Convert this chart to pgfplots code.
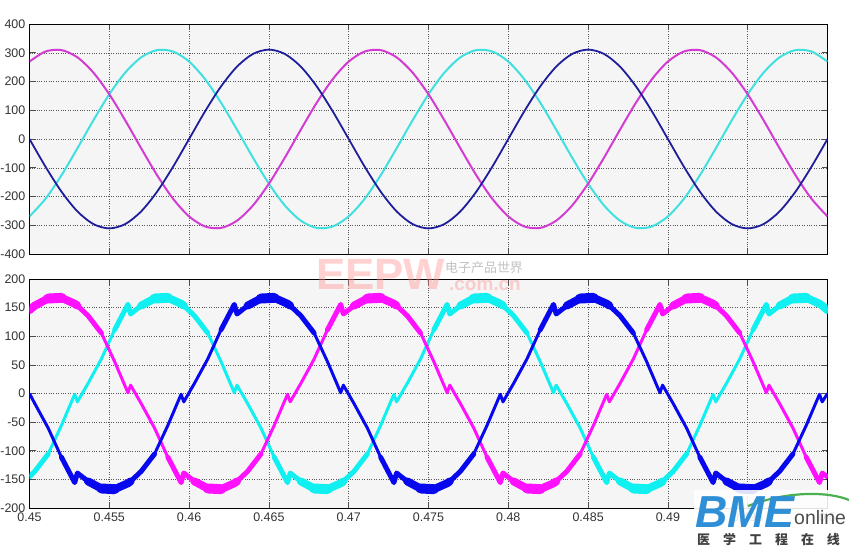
\documentclass[border=0pt]{standalone}
\usepackage{pgfplots}
\pgfplotsset{compat=1.18}
\usepackage{pgfplotstable}
\usepackage{fontspec}
\setmainfont{Liberation Sans}
\newfontfamily\cjk{Noto Sans CJK SC}
\definecolor{vb}{HTML}{1E1E9A}
\definecolor{vm}{HTML}{D23CD2}
\definecolor{vc}{HTML}{40E0E0}
\definecolor{ib}{HTML}{0808EE}
\definecolor{im}{HTML}{FF10FF}
\definecolor{ic}{HTML}{10F0F0}
\definecolor{axbg}{HTML}{F5F5F5}
\definecolor{bmeblue}{HTML}{2E8FD6}
\definecolor{bmegreen}{HTML}{4CAF50}

\pgfplotstableread{
t vb vm vc
0.450 0 269.3 -269.3
0.451 -96.1 304.2 -208.1
0.452 -182.8 309.3 -126.5
0.453 -251.6 284.1 -32.5
0.454 -295.8 231.1 64.7
0.455 -311 155.5 155.5
0.456 -295.8 64.7 231.1
0.457 -251.6 -32.5 284.1
0.458 -182.8 -126.5 309.3
0.459 -96.1 -208.1 304.2
0.460 0 -269.3 269.3
0.461 96.1 -304.2 208.1
0.462 182.8 -309.3 126.5
0.463 251.6 -284.1 32.5
0.464 295.8 -231.1 -64.7
0.465 311 -155.5 -155.5
0.466 295.8 -64.7 -231.1
0.467 251.6 32.5 -284.1
0.468 182.8 126.5 -309.3
0.469 96.1 208.1 -304.2
0.470 0 269.3 -269.3
0.471 -96.1 304.2 -208.1
0.472 -182.8 309.3 -126.5
0.473 -251.6 284.1 -32.5
0.474 -295.8 231.1 64.7
0.475 -311 155.5 155.5
0.476 -295.8 64.7 231.1
0.477 -251.6 -32.5 284.1
0.478 -182.8 -126.5 309.3
0.479 -96.1 -208.1 304.2
0.480 0 -269.3 269.3
0.481 96.1 -304.2 208.1
0.482 182.8 -309.3 126.5
0.483 251.6 -284.1 32.5
0.484 295.8 -231.1 -64.7
0.485 311 -155.5 -155.5
0.486 295.8 -64.7 -231.1
0.487 251.6 32.5 -284.1
0.488 182.8 126.5 -309.3
0.489 96.1 208.1 -304.2
0.490 0 269.3 -269.3
0.491 -96.1 304.2 -208.1
0.492 -182.8 309.3 -126.5
0.493 -251.6 284.1 -32.5
0.494 -295.8 231.1 64.7
0.495 -311 155.5 155.5
0.496 -295.8 64.7 231.1
0.497 -251.6 -32.5 284.1
0.498 -182.8 -126.5 309.3
0.499 -96.1 -208.1 304.2
0.500 0 -269.3 269.3
}\volt

\pgfplotstableread{
t ib im ic
0.45 0 145.5 -145.5
0.450333 -17.6 153.5 -135.9
0.451167 -60.2 165.9 -105.7
0.452 -111.2 167.1 -55.8
0.452833 -155.6 156.8 -1.3
0.453 -138.9 153.5 -14.6
0.453667 -153.5 135.9 17.6
0.4545 -165.9 105.7 60.2
0.455333 -167.1 55.8 111.2
0.456167 -156.8 1.3 155.6
0.456333 -153.5 14.6 138.9
0.457 -135.9 -17.6 153.5
0.457833 -105.7 -60.2 165.9
0.458667 -55.8 -111.2 167.1
0.4595 -1.3 -155.6 156.8
0.459667 -14.6 -138.9 153.5
0.460333 17.6 -153.5 135.9
0.461167 60.2 -165.9 105.7
0.462 111.2 -167.1 55.8
0.462833 155.6 -156.8 1.3
0.463 138.9 -153.5 14.6
0.463667 153.5 -135.9 -17.6
0.4645 165.9 -105.7 -60.2
0.465333 167.1 -55.8 -111.2
0.466167 156.8 -1.3 -155.6
0.466333 153.5 -14.6 -138.9
0.467 135.9 17.6 -153.5
0.467833 105.7 60.2 -165.9
0.468667 55.8 111.2 -167.1
0.4695 1.3 155.6 -156.8
0.469667 14.6 138.9 -153.5
0.470333 -17.6 153.5 -135.9
0.471167 -60.2 165.9 -105.7
0.472 -111.2 167.1 -55.8
0.472833 -155.6 156.8 -1.3
0.473 -138.9 153.5 -14.6
0.473667 -153.5 135.9 17.6
0.4745 -165.9 105.7 60.2
0.475333 -167.1 55.8 111.2
0.476167 -156.8 1.3 155.6
0.476333 -153.5 14.6 138.9
0.477 -135.9 -17.6 153.5
0.477833 -105.7 -60.2 165.9
0.478667 -55.8 -111.2 167.1
0.4795 -1.3 -155.6 156.8
0.479667 -14.6 -138.9 153.5
0.480333 17.6 -153.5 135.9
0.481167 60.2 -165.9 105.7
0.482 111.2 -167.1 55.8
0.482833 155.6 -156.8 1.3
0.483 138.9 -153.5 14.6
0.483667 153.5 -135.9 -17.6
0.4845 165.9 -105.7 -60.2
0.485333 167.1 -55.8 -111.2
0.486167 156.8 -1.3 -155.6
0.486333 153.5 -14.6 -138.9
0.487 135.9 17.6 -153.5
0.487833 105.7 60.2 -165.9
0.488667 55.8 111.2 -167.1
0.4895 1.3 155.6 -156.8
0.489667 14.6 138.9 -153.5
0.490333 -17.6 153.5 -135.9
0.491167 -60.2 165.9 -105.7
0.492 -111.2 167.1 -55.8
0.492833 -155.6 156.8 -1.3
0.493 -138.9 153.5 -14.6
0.493667 -153.5 135.9 17.6
0.4945 -165.9 105.7 60.2
0.495333 -167.1 55.8 111.2
0.496167 -156.8 1.3 155.6
0.496333 -153.5 14.6 138.9
0.497 -135.9 -17.6 153.5
0.497833 -105.7 -60.2 165.9
0.498667 -55.8 -111.2 167.1
0.4995 -1.3 -155.6 156.8
0.499667 -14.6 -138.9 153.5
0.5 0 -145.5 145.5
}\curr

\pgfplotsset{
  mlab/.style={
    scale only axis, width=798bp, anchor=north west,
    xmin=0.45, xmax=0.5,
    xtick={0.45,0.455,0.46,0.465,0.47,0.475,0.48,0.485,0.49,0.495,0.5},
    tick align=inside, xtick pos=both, ytick pos=both,
    major tick length=6bp,
    grid=major, grid style={dotted, black!65, line width=0.5pt},
    axis background/.style={fill=axbg},
    axis line style={black, line width=0.6pt},
    tick style={black!70, line width=0.6pt},
    tick label style={font=\fontsize{12.5}{14}\selectfont, text=black!80},
    yticklabel style={inner sep=0pt, anchor=east, xshift=-4bp},
    xticklabel style={inner sep=0pt, anchor=north, yshift=-5bp},
  },
  cur/.style={line width=3pt, line join=round},
  bandA/.style={line width=5pt, line cap=round, line join=round, unbounded coords=jump},
  bandB/.style={line width=8pt, line cap=round, line join=round, unbounded coords=jump},
  bandC/.style={line width=10pt, line cap=round, line join=round, unbounded coords=jump},
  curset/.style args={#1/#2}{},
}

\begin{document}
\begin{tikzpicture}
\begin{axis}[mlab, height=230bp, at={(29.5bp,-24bp)},
  ymin=-400, ymax=400,
  ytick={-400,-300,-200,-100,0,100,200,300,400},
  yticklabels={-400,-300,-200,-100,0,100,200,300,400},
  xticklabels={}]
\addplot[vc, line width=2pt, smooth] table[x=t, y=vc]{\volt};
\addplot[vm, line width=2pt, smooth] table[x=t, y=vm]{\volt};
\addplot[vb, line width=1.8pt, smooth] table[x=t, y=vb]{\volt};
\end{axis}

\begin{axis}[mlab, height=229bp, at={(29.5bp,-279bp)},
  ymin=-200, ymax=200,
  ytick={-200,-150,-100,-50,0,50,100,150,200},
  yticklabels={-200,-150,-100,-50,0,50,100,150,200},
  xticklabels={0.45,0.455,0.46,0.465,0.47,0.475,0.48,0.485,0.49,0.495,0.5}]
\addplot[ic, cur] table[x=t, y=ic]{\curr};
\addplot[ic, bandA, restrict y to domain=100:400] table[x=t, y=ic]{\curr};
\addplot[ic, bandA, restrict y to domain=-400:-100] table[x=t, y=ic]{\curr};
\addplot[ic, bandB, restrict y to domain=140:400] table[x=t, y=ic]{\curr};
\addplot[ic, bandB, restrict y to domain=-400:-140] table[x=t, y=ic]{\curr};
\addplot[ic, bandC, restrict y to domain=160:400] table[x=t, y=ic]{\curr};
\addplot[ic, bandC, restrict y to domain=-400:-160] table[x=t, y=ic]{\curr};
\addplot[im, cur] table[x=t, y=im]{\curr};
\addplot[im, bandA, restrict y to domain=100:400] table[x=t, y=im]{\curr};
\addplot[im, bandA, restrict y to domain=-400:-100] table[x=t, y=im]{\curr};
\addplot[im, bandB, restrict y to domain=140:400] table[x=t, y=im]{\curr};
\addplot[im, bandB, restrict y to domain=-400:-140] table[x=t, y=im]{\curr};
\addplot[im, bandC, restrict y to domain=160:400] table[x=t, y=im]{\curr};
\addplot[im, bandC, restrict y to domain=-400:-160] table[x=t, y=im]{\curr};
\addplot[ib, cur] table[x=t, y=ib]{\curr};
\addplot[ib, bandA, restrict y to domain=100:400] table[x=t, y=ib]{\curr};
\addplot[ib, bandA, restrict y to domain=-400:-100] table[x=t, y=ib]{\curr};
\addplot[ib, bandB, restrict y to domain=140:400] table[x=t, y=ib]{\curr};
\addplot[ib, bandB, restrict y to domain=-400:-140] table[x=t, y=ib]{\curr};
\addplot[ib, bandC, restrict y to domain=160:400] table[x=t, y=ib]{\curr};
\addplot[ib, bandC, restrict y to domain=-400:-160] table[x=t, y=ib]{\curr};
\end{axis}

% watermark EEPW
\node[anchor=west, inner sep=0pt, text=red!45, opacity=0.4, font=\fontsize{44}{44}\selectfont\bfseries] at (316bp,-274bp) {EEPW};
\node[anchor=west, inner sep=0pt, text=black!40, opacity=0.6, font=\cjk\fontsize{13}{13}\selectfont] at (445bp,-268bp) {电子产品世界};
\node[anchor=west, inner sep=0pt, text=red!45, opacity=0.4, font=\fontsize{19}{19}\selectfont\bfseries] at (449bp,-285bp) {.com.cn};

% logo BME online
\fill[white, opacity=0.88] (694bp,-490bp) rectangle (849bp,-548bp);
\draw[bmegreen, line width=2.2pt] (748bp,-506bp) .. controls (790bp,-490bp) and (830bp,-492bp) .. (849bp,-500bp);
\node[anchor=west, inner sep=0pt, text=bmeblue, font=\fontsize{45}{45}\selectfont\bfseries\itshape] at (695bp,-512bp) {BME};
\node[anchor=west, inner sep=0pt, text=black!70, font=\fontsize{19.5}{20}\selectfont] at (794bp,-518bp) {online};
\node[anchor=west, inner sep=0pt, text=black!75, font=\cjk\fontsize{13}{13}\selectfont\bfseries] at (697bp,-540bp) {医\hspace{13bp}学\hspace{13bp}工\hspace{13bp}程\hspace{13bp}在\hspace{13bp}线};

\pgfresetboundingbox
\path (0,0) rectangle (849bp,-548bp);
\end{tikzpicture}
\end{document}
